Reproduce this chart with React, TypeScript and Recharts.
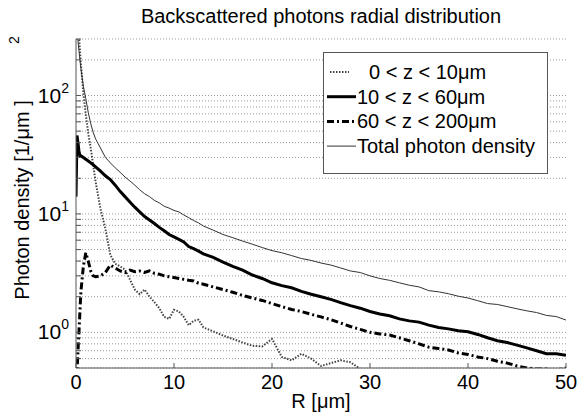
import React from "react";
import { LineChart, Line, XAxis, YAxis, CartesianGrid } from "recharts";

// radial position [um]
const R = [
  0, 0.1, 0.2, 0.3, 0.4, 0.5,
  0.75, 1, 1.25, 1.5, 1.75, 2,
  2.5, 3, 3.5, 4, 4.5, 5, 5.5, 6, 6.5, 7, 7.5, 8, 8.5, 9, 9.5, 10, 10.5, 11, 11.5, 12, 12.5, 13,
  14, 15, 16, 17, 18, 19, 20, 21, 22, 23, 24, 25, 26, 27, 28, 29, 30, 31, 32,
  33, 34, 35, 36, 37, 38, 39, 40, 41, 42, 43, 44, 45, 46, 47, 48, 49, 50,
];

// 0 < z < 10um
const shallow = [
  1200, 700, 450, 320, 240, 183,
  105, 69, 48, 36, 26, 18.7,
  11, 7.5, 4.5, 3.8, 3.6, 3.4, 2.8, 2.3, 2.1, 2.3, 2.0, 1.8, 1.6, 1.35, 1.3, 1.55, 1.5, 1.35, 1.15, 1.25, 1.28, 1.1,
  1.02, 0.94, 0.88, 0.82, 0.77, 0.76, 0.88, 0.62, 0.58, 0.66, 0.6, 0.52, 0.55, 0.58, 0.56, 0.49, 0.42, null, null,
  null, null, null, null, null, null, null, null, null, null, null, null, null, null, null, null, null, null,
];

// 10 < z < 60um
const middle = [
  14, 46, 40, 34, 31, 31,
  30, 29, 28, 27, 26, 25,
  23, 21, 19.5, 17.5, 15.5, 14, 12.6, 11.4, 10.4, 9.5, 8.9, 8.3, 7.7, 7.2, 6.7, 6.4, 6.1, 5.8, 5.3, 5.1, 4.85, 4.6,
  4.3, 3.92, 3.6, 3.35, 3.05, 2.85, 2.62, 2.48, 2.38, 2.22, 2.1, 2.0, 1.9, 1.78, 1.68, 1.6, 1.5, 1.43, 1.38,
  1.3, 1.25, 1.22, 1.15, 1.1, 1.07, 1.03, 1.01, 0.96, 0.9, 0.85, 0.82, 0.78, 0.74, 0.7, 0.66, 0.66, 0.64,
];

// 60 < z < 200um
const deep = [
  0.3, 0.45, 0.7, 1.0, 1.5, 2.2,
  3.6, 4.7, 4.0, 3.3, 3.0, 2.95,
  3.0, 3.2, 3.7, 3.5, 3.3, 3.2, 3.35, 3.25, 3.3, 3.2, 3.3, 3.15, 3.1, 3.0, 2.95, 2.9, 2.85, 2.8, 2.75, 2.72, 2.6, 2.55,
  2.42, 2.3, 2.18, 2.05, 1.95, 1.86, 1.75, 1.65, 1.56, 1.5, 1.42, 1.35, 1.28, 1.2, 1.12, 1.06, 1.0, 0.97, 0.95,
  0.9, 0.85, 0.8, 0.75, 0.73, 0.71, 0.67, 0.65, 0.62, 0.6, 0.57, 0.55, 0.52, 0.5, 0.49, 0.49, 0.48, 0.5,
];

// total photon density
const total = [
  420, 360, 290, 240, 200, 170,
  120, 94, 72, 58, 49, 43,
  36, 30, 27, 24.5, 22.5, 20.5, 19, 17.5, 16, 14.8, 14, 13, 12.4, 11.6, 11.2, 10.7, 10.4, 9.8, 9.3, 8.8, 8.4, 7.9,
  7.3, 6.7, 6.3, 5.9, 5.55, 5.2, 4.9, 4.7, 4.45, 4.2, 4.05, 3.85, 3.7, 3.5, 3.3, 3.2, 3.0, 2.85, 2.75,
  2.62, 2.5, 2.42, 2.25, 2.2, 2.12, 2.02, 1.95, 1.85, 1.75, 1.72, 1.65, 1.58, 1.52, 1.47, 1.39, 1.36, 1.27,
];

const xTicks = [0, 10, 20, 30, 40, 50];
const yGrid = [0.6, 0.7, 0.8, 0.9, 1, 2, 3, 4, 5, 6, 7, 8, 9, 10, 20, 30, 40, 50, 60, 70, 80, 90, 100, 200, 300];

const legendItems = [
  { label: "0 < z < 10\u03bcm", stroke: "#444", width: 2, dash: "1.5 1.5", x1: 7, x2: 26, textX: 46 },
  { label: "10 < z < 60\u03bcm", stroke: "#000", width: 3, dash: undefined, x1: 4, x2: 33, textX: 34 },
  { label: "60 < z < 200\u03bcm", stroke: "#000", width: 3, dash: "7 3 2 3", x1: 4, x2: 33, textX: 34 },
  { label: "Total photon density", stroke: "#333", width: 1, dash: undefined, x1: 4, x2: 33, textX: 34 },
];

const data = R.map((r, i) => ({
  r,
  shallow: shallow[i],
  middle: middle[i],
  deep: deep[i],
  total: total[i],
}));

const FONT = "'Liberation Sans', Arial, Helvetica, sans-serif";

function YTick(props: any) {
  const { x, y, payload } = props;
  const v = payload.value;
  const exp = Math.round(Math.log10(v));
  const major = Math.abs(Math.log10(v) - exp) < 1e-6;
  return (
    <g>
      <line x1={x} x2={x + 5} y1={y} y2={y} stroke="#555" />
      {major && (
        <text x={x - 7} y={y} textAnchor="end" fontSize={21} fill="#000">
          <tspan dy={7}>10</tspan>
          <tspan dy={-10} fontSize={14}>{exp}</tspan>
        </text>
      )}
    </g>
  );
}

function XTick(props: any) {
  const { x, y, payload } = props;
  return (
    <g>
      <line x1={x} x2={x} y1={y} y2={y - 5} stroke="#555" />
      <text x={x} y={y + 21} textAnchor="middle" fontSize={20} fill="#000">
        {payload.value}
      </text>
    </g>
  );
}

export default function App() {
  return (
    <div
      style={{
        position: "absolute",
        left: 0,
        top: 0,
        width: 583,
        height: 415,
        background: "#fff",
        fontFamily: FONT,
      }}
    >
      <LineChart
        width={583}
        height={415}
        data={data}
        margin={{ top: 39, right: 17, bottom: 0, left: 0 }}
      >
        <CartesianGrid vertical={false} stroke="#999" strokeDasharray="1 2" />
        <XAxis
          dataKey="r"
          type="number"
          domain={[0, 50]}
          ticks={xTicks}
          allowDataOverflow
          height={47}
          tickSize={0}
          tickMargin={0}
          tickLine={false}
          axisLine={{ stroke: "#555" }}
          tick={(p: any) => <XTick {...p} />}
          interval={0}
        />
        <YAxis
          scale="log"
          domain={[0.5, 300]}
          ticks={yGrid}
          allowDataOverflow
          width={76}
          tickSize={0}
          tickMargin={0}
          tickLine={false}
          axisLine={{ stroke: "#555" }}
          tick={(p: any) => <YTick {...p} />}
          interval={0}
        />
        <Line
          type="linear"
          dataKey="shallow"
          stroke="#444"
          strokeWidth={2}
          strokeDasharray="1.5 1.5"
          dot={false}
          isAnimationActive={false}
        />
        <Line
          type="linear"
          dataKey="middle"
          stroke="#000"
          strokeWidth={3}
          dot={false}
          isAnimationActive={false}
        />
        <Line
          type="linear"
          dataKey="deep"
          stroke="#000"
          strokeWidth={3}
          strokeDasharray="7 3 2 3"
          dot={false}
          isAnimationActive={false}
        />
        <Line
          type="linear"
          dataKey="total"
          stroke="#333"
          strokeWidth={1}
          dot={false}
          isAnimationActive={false}
        />
      </LineChart>

      <svg
        width={583}
        height={415}
        style={{ position: "absolute", left: 0, top: 0, pointerEvents: "none" }}
      >
        <text x={321} y={23} textAnchor="middle" fontSize={20} fill="#000">
          Backscattered photons radial distribution
        </text>
        <text x={321} y={408} textAnchor="middle" fontSize={20} fill="#000">
          R [{"\u03bc"}m]
        </text>
        <text
          x={29}
          y={200}
          textAnchor="middle"
          fontSize={20}
          fill="#000"
          transform="rotate(-90, 29, 200)"
        >
          Photon density [1/{"\u03bc"}m ]
        </text>
        <text
          x={19}
          y={40}
          textAnchor="middle"
          fontSize={14}
          fill="#000"
          transform="rotate(-90, 19, 40)"
        >
          2
        </text>
      </svg>

      <svg width={225} height={122} style={{ position: "absolute", left: 323, top: 52 }}>
        <rect x={0.5} y={0.5} width={224} height={121} fill="#fff" stroke="#555" />
        {legendItems.map((it, i) => {
          const cy = 20 + i * 24.7;
          return (
            <g key={it.label}>
              <line
                x1={it.x1}
                x2={it.x2}
                y1={cy}
                y2={cy}
                stroke={it.stroke}
                strokeWidth={it.width}
                strokeDasharray={it.dash}
              />
              <text x={it.textX} y={cy + 7} fontSize={20} fill="#000">
                {it.label}
              </text>
            </g>
          );
        })}
      </svg>
    </div>
  );
}
